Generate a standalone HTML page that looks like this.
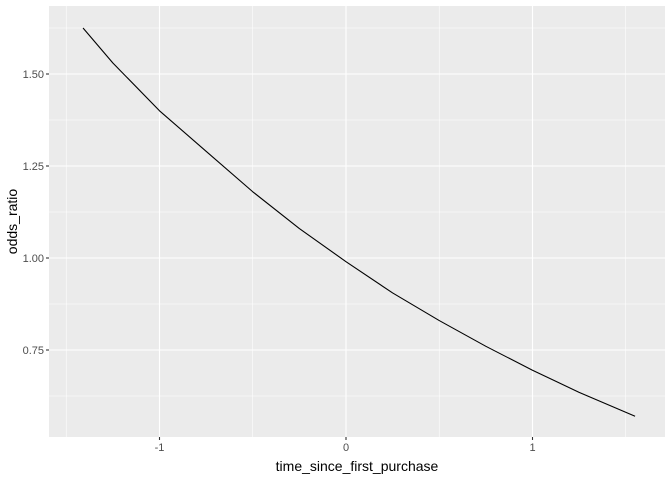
<!DOCTYPE html>
<html><head><meta charset="utf-8"><style>
body{margin:0;background:#fff}
svg{display:block;font-family:"Liberation Sans",sans-serif}
</style></head><body>
<svg id="chart" width="672" height="480" xmlns="http://www.w3.org/2000/svg"></svg>
<script>
const xValues=[-1.41,-1.25,-1,-0.75,-0.5,-0.25,0,0.25,0.5,0.75,1,1.25,1.55];
const yValues=[1.625,1.53,1.40,1.29,1.18,1.08,0.99,0.905,0.83,0.76,0.695,0.635,0.57];
const xTicks=[-1,0,1];
const xTickLabels=["-1","0","1"];
const xMinor=[-1.5,-0.5,0.5,1.5];
const yTicks=[0.75,1.00,1.25,1.50];
const yTickLabels=["0.75","1.00","1.25","1.50"];
const yMinor=[0.625,0.875,1.125,1.375,1.625];
const L=49,R=665,T=6,B=437;
const sx=v=>346+v*186.5;
const sy=v=>258-(v-1)*368;
const svg=document.getElementById('chart');
const NS='http://www.w3.org/2000/svg';
function mk(tag,attrs,parent){const e=document.createElementNS(NS,tag);for(const k in attrs)e.setAttribute(k,attrs[k]);(parent||svg).appendChild(e);return e;}
const panel=mk('rect',{x:L,y:T,width:R-L,height:B-T,fill:'#ebebeb'});


const grid=mk('g',{});


xMinor.forEach(v=>mk('line',{x1:sx(v),x2:sx(v),y1:T,y2:B,stroke:'#fff','stroke-width':0.55},grid));
yMinor.forEach(v=>mk('line',{x1:L,x2:R,y1:sy(v),y2:sy(v),stroke:'#fff','stroke-width':0.55},grid));
xTicks.forEach(v=>mk('line',{x1:sx(v),x2:sx(v),y1:T,y2:B,stroke:'#fff','stroke-width':1.1},grid));
yTicks.forEach(v=>mk('line',{x1:L,x2:R,y1:sy(v),y2:sy(v),stroke:'#fff','stroke-width':1.1},grid));
const line=mk('polyline',{points:xValues.map((x,i)=>sx(x)+','+sy(yValues[i])).join(' '),fill:'none',stroke:'#000','stroke-width':1.1,'stroke-linejoin':'round'});


const xa=mk('g',{});


xTicks.forEach((v,i)=>{mk('line',{x1:sx(v),x2:sx(v),y1:B,y2:B+3,stroke:'#333','stroke-width':1.1},xa);
const t=mk('text',{x:sx(v),y:B+14,'text-anchor':'middle','font-size':'11',fill:'#4d4d4d'},xa);t.textContent=xTickLabels[i];});
const ya=mk('g',{});


yTicks.forEach((v,i)=>{mk('line',{x1:L-3,x2:L,y1:sy(v),y2:sy(v),stroke:'#333','stroke-width':1.1},ya);
const t=mk('text',{x:L-5,y:sy(v)+4,'text-anchor':'end','font-size':'11',fill:'#4d4d4d'},ya);t.textContent=yTickLabels[i];});
const xt=mk('text',{x:(L+R)/2,y:471,'text-anchor':'middle','font-size':'14',fill:'#000'});
xt.textContent='time_since_first_purchase';


const yt=mk('text',{x:0,y:0,transform:'translate(17,'+((T+B)/2)+') rotate(-90)','text-anchor':'middle','font-size':'14',fill:'#000'});
yt.textContent='odds_ratio';


</script>
</body></html>
